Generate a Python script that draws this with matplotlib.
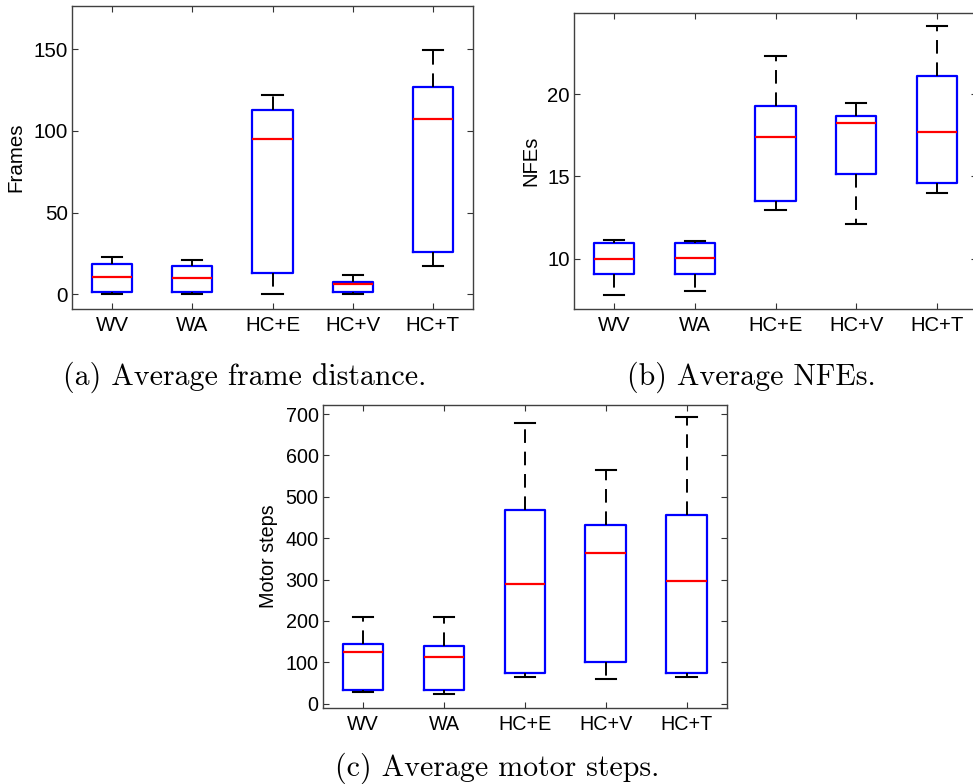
import matplotlib
matplotlib.use('Agg')
import matplotlib.pyplot as plt

methods = ['WV', 'WA', 'HC+E', 'HC+V', 'HC+T']

# (a) frames: lower whisker, q1, median, q3, upper whisker
frames_lo = [0.0, 0.0, 0.0, 0.0, 17.1]
frames_q1 = [1.4, 1.4, 13.0, 1.4, 25.6]
frames_med = [10.8, 10.2, 94.7, 6.3, 107.1]
frames_q3 = [18.5, 17.5, 112.8, 7.5, 127.0]
frames_hi = [22.8, 21.1, 121.7, 11.8, 149.6]

# (b) NFEs
nfe_lo = [7.77, 8.06, 12.96, 12.13, 13.99]
nfe_q1 = [9.07, 9.07, 13.52, 15.12, 14.62]
nfe_med = [9.98, 10.04, 17.39, 18.22, 17.69]
nfe_q3 = [10.93, 10.95, 19.27, 18.66, 21.09]
nfe_hi = [11.11, 11.05, 22.33, 19.45, 24.15]

# (c) motor steps
steps_lo = [28.2, 24.2, 65.2, 60.4, 65.2]
steps_q1 = [32.2, 32.2, 73.3, 99.9, 73.3]
steps_med = [124.9, 112.0, 288.4, 364.9, 297.2]
steps_q3 = [145.0, 138.6, 468.8, 432.6, 455.1]
steps_hi = [209.4, 209.4, 678.3, 563.9, 692.8]


def make_stats(lo, q1, med, q3, hi):
    stats = []
    for i in range(len(methods)):
        stats.append({'whislo': lo[i], 'q1': q1[i], 'med': med[i],
                      'q3': q3[i], 'whishi': hi[i], 'fliers': []})
    return stats


def draw(ax, stats, ylabel, ylim, yticks, fs, labx):
    ax.bxp(stats, positions=range(1, 6), widths=0.5, showfliers=False,
           boxprops=dict(color='#0000ff', linewidth=1.6),
           medianprops=dict(color='#ff0000', linewidth=1.6),
           whiskerprops=dict(color='black', linewidth=1.4, linestyle=(0, (7, 4.5))),
           capprops=dict(color='black', linewidth=1.5))
    ax.set_xlim(0.5, 5.5)
    ax.set_ylim(*ylim)
    ax.set_yticks(yticks)
    ax.set_xticks(range(1, 6))
    ax.set_xticklabels(methods)
    ax.tick_params(direction='in', top=True, right=True, length=4,
                   labelsize=fs, color='#333333', width=0.8)
    ax.tick_params(axis='x', pad=5)
    ax.tick_params(axis='y', pad=3)
    for s in ax.spines.values():
        s.set_color('#404040')
        s.set_linewidth(1.0)
    ax.set_ylabel(ylabel, fontsize=fs)
    ax.yaxis.set_label_coords(labx, 0.5)


plt.rcParams['font.family'] = ['Liberation Sans', 'DejaVu Sans']
fig = plt.figure(figsize=(9.73, 7.84), dpi=100)

ax1 = fig.add_axes([72 / 973, 1 - 309 / 784, 401 / 973, 303 / 784])
draw(ax1, make_stats(frames_lo, frames_q1, frames_med, frames_q3, frames_hi),
     'Frames', (-9, 176.3), [0, 50, 100, 150], 14.8, -0.117)

ax2 = fig.add_axes([574 / 973, 1 - 309.3 / 784, 403 / 973, 296 / 784])
draw(ax2, make_stats(nfe_lo, nfe_q1, nfe_med, nfe_q3, nfe_hi),
     'NFEs', (6.93, 24.9), [10, 15, 20], 14.6, -0.084)

ax3 = fig.add_axes([322.7 / 973, 1 - 707.7 / 784, 404.3 / 973, 303 / 784])
draw(ax3, make_stats(steps_lo, steps_q1, steps_med, steps_q3, steps_hi),
     'Motor steps', (-9.7, 722.5), range(0, 701, 100), 14.2, -0.11)

cap = dict(fontfamily='cmr10', fontsize=21.5, ha='center', va='baseline')
fig.text(245 / 973, 1 - 385 / 784, '(a) Average frame distance.', **cap)
fig.text(751 / 973, 1 - 385 / 784, '(b) Average NFEs.', **cap)
fig.text(497 / 973, 1 - 776 / 784, '(c) Average motor steps.', **cap)

fig.savefig('out.png', dpi=100)
